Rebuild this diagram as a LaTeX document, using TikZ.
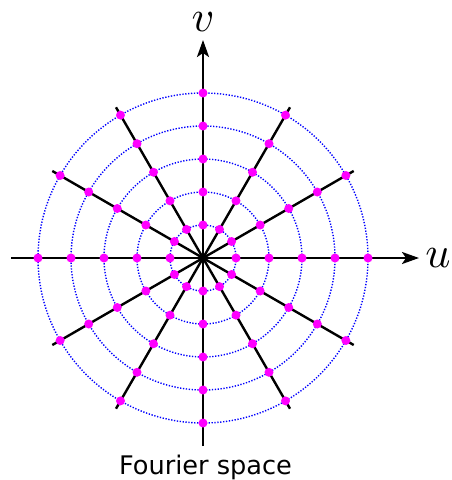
\documentclass[tikz,border=0pt]{standalone}
\usepackage{fontspec}
\newfontfamily\labelfont{DejaVu Sans}
\usetikzlibrary{arrows.meta,calc}
\definecolor{dotmag}{RGB}{255,0,255}
\definecolor{ringblue}{RGB}{0,0,255}
\tikzset{
  axisline/.style={line width=2.4pt, -{Stealth[length=17pt,width=12pt,inset=4pt]}},
  spoke/.style={line width=2.4pt},
  ring/.style={draw=ringblue, line width=1.4pt, dash pattern=on 1.3pt off 1.6pt},
  sample/.style={circle, fill=dotmag, inner sep=0pt, minimum size=9pt},
  axislabel/.style={scale=4.4, inner sep=0pt},
}
\begin{document}
\begin{tikzpicture}[x=1pt,y=-1pt]
\useasboundingbox (0,0) rectangle (451,480);
\coordinate (O) at (203,258);
% rings
\foreach \r in {33,66,99,132,165}
  \draw[ring] (O) circle[radius=\r];
% spokes
\foreach \a in {30,60,120,150,210,240,300,330}{
  \coordinate (s\a) at ($(O)+(\a:174)$);
  \draw[spoke] (O) -- (s\a);
}
% axes
\coordinate (xl) at (11,258);
\coordinate (xr) at (419,258);
\coordinate (yb) at (203,446);
\coordinate (yt) at (203,40);
\draw[axisline] (xl) -- (xr);
\draw[axisline] (yb) -- (yt);
% samples
\foreach \a in {0,30,...,330}
  \foreach \k in {1,...,5}
    \node[sample] (p\a-\k) at ($(O)+(\a:{33*\k})$) {};
% labels
\node[axislabel] (v) at (203,22) {$v$};
\node[axislabel] (u) at (438,258) {$u$};
\node[font=\labelfont\fontsize{25.6}{25.6}\selectfont, anchor=base, inner sep=0pt] (cap) at (205.5,474) {Fourier space};
\end{tikzpicture}
\end{document}
